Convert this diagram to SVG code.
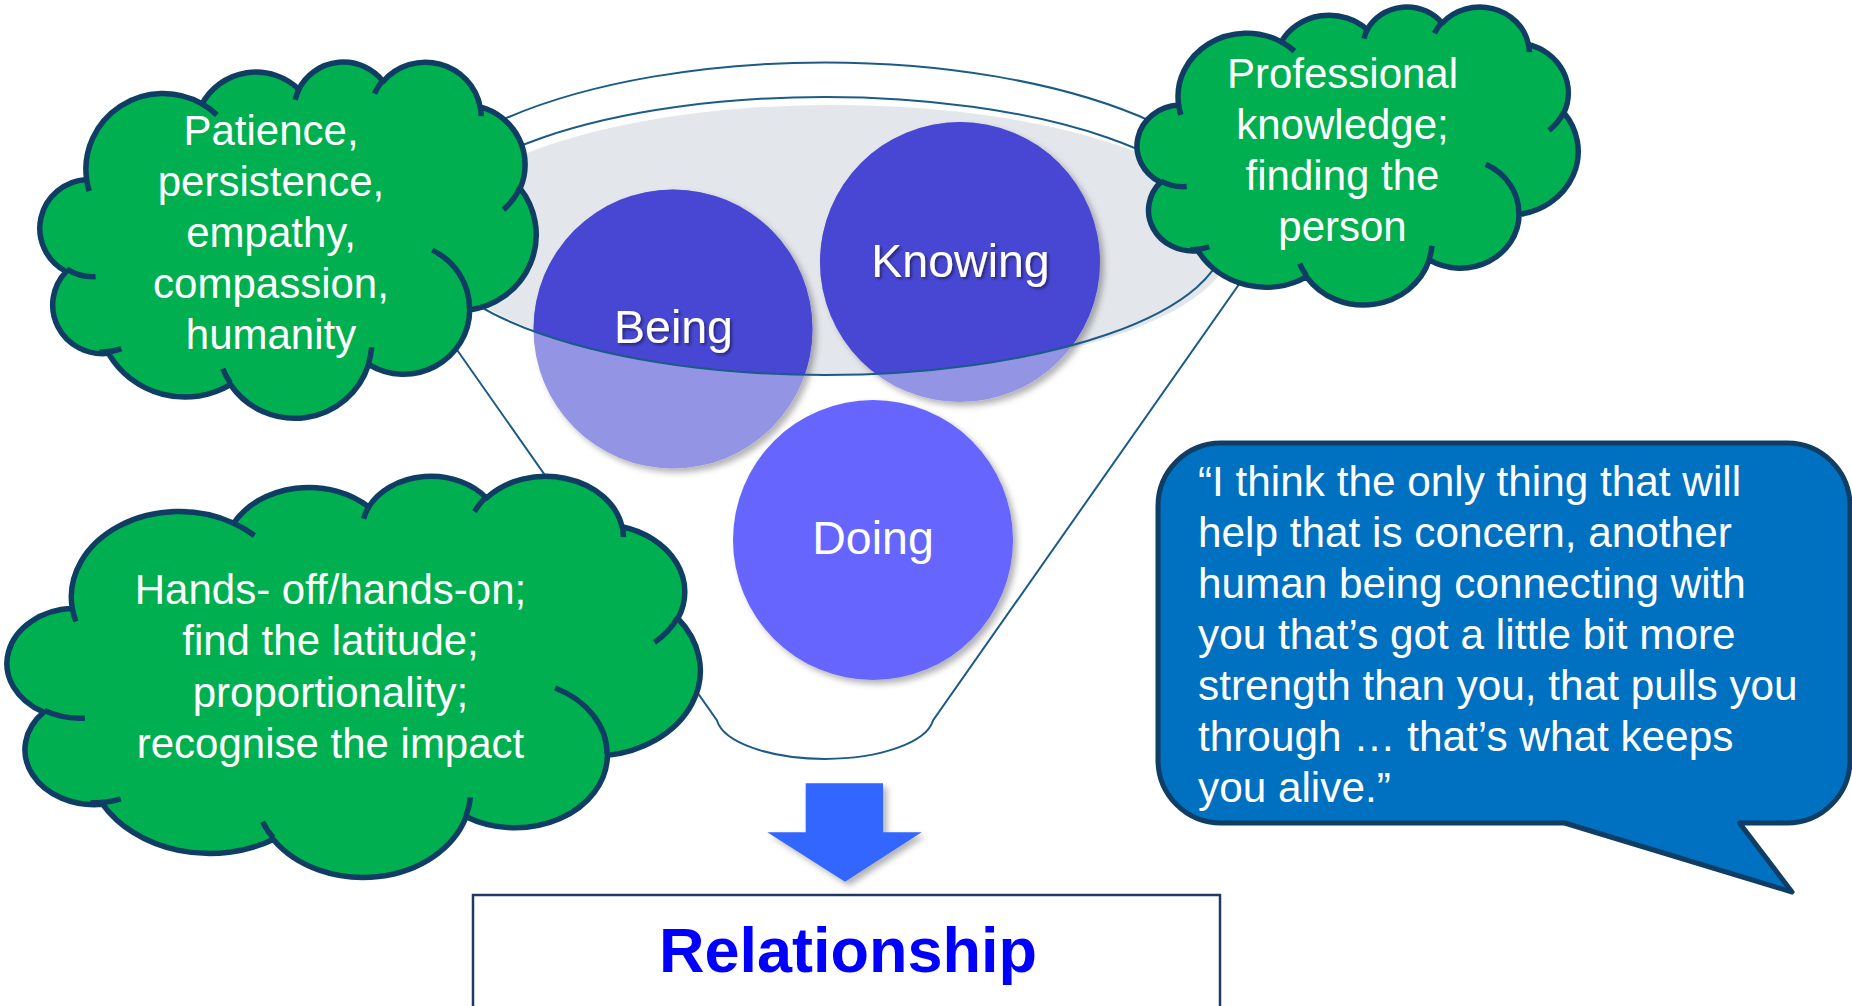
<svg xmlns="http://www.w3.org/2000/svg" width="1852" height="1006" viewBox="0 0 1852 1006">
  <style>
    .cloud { fill: #00B050; stroke: #0F3D63; stroke-width: 5.5; stroke-linejoin: round; }
    .cloudmark { fill: none; stroke: #0F3D63; stroke-width: 5.5; }
    .ctext { font-family: "Liberation Sans", Arial, sans-serif; font-size: 42px; fill: #FFFFFF; text-anchor: middle; }
    .btext { font-family: "Liberation Sans", Arial, sans-serif; font-size: 42.3px; fill: #FFFFFF; }
    .circtext { font-family: "Liberation Sans", Arial, sans-serif; font-size: 46.5px; fill: #FFFFFF; text-anchor: middle; }
    .funnel { fill: none; stroke: #1B5B87; stroke-width: 2; }
    .light { fill: #9494E5; }
    .dark { fill: #4747D3; }
  </style>
  <defs>
    <filter id="shadow" x="-20%" y="-20%" width="140%" height="140%">
      <feDropShadow dx="4" dy="4" stdDeviation="3" flood-color="#000" flood-opacity="0.3"/>
    </filter>
    <filter id="tshadow" x="-10%" y="-20%" width="120%" height="150%">
      <feDropShadow dx="2" dy="2" stdDeviation="1.5" flood-color="#000" flood-opacity="0.45"/>
    </filter>
    <clipPath id="funnelTop">
      <ellipse cx="825" cy="236" rx="400" ry="139"/>
    </clipPath>
  </defs>

  <rect width="1852" height="1006" fill="#FFFFFF"/>

  <!-- Funnel -->
  <g id="funnel">
    <ellipse cx="833" cy="240" rx="400" ry="135" fill="#E3E6EB"/>
    <path class="funnel" d="M394,260 A435,174 0 1 1 1256,260 L933,720.5 A108.75,43.5 0 0 1 717,720.5 Z"/>
  </g>

  <!-- Circles -->
  <g id="being">
    <circle class="light" cx="673" cy="329" r="139.5" filter="url(#shadow)"/>
    <circle class="dark" cx="673" cy="329" r="139.5" clip-path="url(#funnelTop)"/>
  </g>
  <g id="knowing">
    <circle class="light" cx="960" cy="262" r="140" filter="url(#shadow)"/>
    <circle class="dark" cx="960" cy="262" r="140" clip-path="url(#funnelTop)"/>
  </g>
  <g id="doing">
    <circle cx="873" cy="540" r="140" fill="#6666FF" filter="url(#shadow)"/>
    <text class="circtext" x="873" y="554">Doing</text>
  </g>

  <g id="funnel-rim">
    <ellipse class="funnel" cx="825" cy="236" rx="400" ry="139"/>
  </g>
  <g id="circle-labels">
    <text class="circtext" x="673.5" y="343" filter="url(#tshadow)">Being</text>
    <text class="circtext" x="960.5" y="277" filter="url(#tshadow)">Knowing</text>
  </g>

  <!-- Clouds -->
  <g id="cloud-being">
    <path class="cloud" d="M86.61,179.41 A77.21,75.72 0 0 1 202.15,103.86 A60.96,59.88 0 0 1 298.78,89.30 A49.89,48.99 0 0 1 383.16,81.47 A55.53,54.36 0 0 1 480.18,106.96 A60.96,59.95 0 0 1 520.19,188.41 A77.46,75.97 0 0 1 469.71,309.92 A66.15,64.83 0 0 1 368.53,364.38 A77.21,75.93 0 0 1 230.46,384.60 A88.28,86.90 0 0 1 108.39,353.35 A49.84,48.77 0 0 1 66.16,271.57 A49.70,48.99 0 0 1 86.61,179.41 Z"/>
    <path class="cloudmark" d="M95.65,276.74 A49.70,48.99 0 0 1 66.70,269.15 M121.24,348.58 A49.84,48.77 0 0 1 99.50,351.96 M230.41,383.14 A77.21,75.93 0 0 1 222.80,368.76 M371.65,347.37 A77.21,75.93 0 0 1 368.58,363.10 M432.26,250.14 A66.15,64.83 0 0 1 469.46,308.95 M519.95,187.52 A60.96,59.95 0 0 1 503.40,209.59 M480.23,105.71 A55.53,54.36 0 0 1 481.12,116.14 M374.51,93.57 A55.53,54.36 0 0 1 383.01,80.26 M295.18,99.91 A49.89,48.99 0 0 1 299.28,88.45 M202.11,103.79 A77.21,75.72 0 0 1 216.97,114.90 M89.18,191.12 A77.21,75.72 0 0 1 86.61,179.44"/>
    <text class="ctext" x="271" y="144.5">Patience,</text>
    <text class="ctext" x="271" y="195.7">persistence,</text>
    <text class="ctext" x="271" y="246.9">empathy,</text>
    <text class="ctext" x="271" y="298.1">compassion,</text>
    <text class="ctext" x="271" y="349.3">humanity</text>
  </g>

  <g id="cloud-knowing">
    <path class="cloud" d="M1178.64,105.11 A68.62,63.38 0 0 1 1281.32,41.88 A54.17,50.12 0 0 1 1367.19,29.69 A44.34,41.00 0 0 1 1442.17,23.14 A49.34,45.50 0 0 1 1528.39,44.47 A54.17,50.18 0 0 1 1563.95,112.65 A68.84,63.59 0 0 1 1519.09,214.36 A58.78,54.27 0 0 1 1429.18,259.96 A68.62,63.56 0 0 1 1306.48,276.88 A78.45,72.74 0 0 1 1198.00,250.72 A44.30,40.83 0 0 1 1160.47,182.27 A44.16,41.00 0 0 1 1178.64,105.11 Z"/>
    <path class="cloudmark" d="M1186.68,186.59 A44.16,41.00 0 0 1 1160.95,181.08 M1209.42,246.72 A44.30,40.83 0 0 1 1190.10,249.56 M1306.43,275.66 A68.62,63.56 0 0 1 1299.67,263.62 M1431.94,245.71 A68.62,63.56 0 0 1 1429.22,258.88 M1485.81,164.33 A58.78,54.27 0 0 1 1518.87,213.56 M1563.73,111.91 A54.17,50.18 0 0 1 1549.03,130.39 M1528.44,43.43 A49.34,45.50 0 0 1 1529.23,52.16 M1434.49,33.27 A49.34,45.50 0 0 1 1442.04,22.12 M1363.99,38.57 A44.34,41.00 0 0 1 1367.63,28.98 M1281.28,41.82 A68.62,63.38 0 0 1 1294.49,51.12 M1180.92,114.92 A68.62,63.38 0 0 1 1178.64,105.14"/>
    <text class="ctext" x="1342.5" y="87.5">Professional</text>
    <text class="ctext" x="1342.5" y="138.5">knowledge;</text>
    <text class="ctext" x="1342.5" y="189.5">finding the</text>
    <text class="ctext" x="1342.5" y="240.5">person</text>
  </g>

  <g id="cloud-doing">
    <path class="cloud" d="M72.31,608.37 A107.85,85.29 0 0 1 233.70,523.28 A85.15,67.45 0 0 1 368.66,506.88 A69.69,55.18 0 0 1 486.51,498.06 A77.56,61.23 0 0 1 622.03,526.77 A85.15,67.53 0 0 1 677.92,618.52 A108.19,85.57 0 0 1 607.40,755.38 A92.39,73.02 0 0 1 466.09,816.73 A107.85,85.53 0 0 1 273.24,839.51 A123.30,97.88 0 0 1 102.74,804.30 A69.62,54.94 0 0 1 43.74,712.19 A69.41,55.18 0 0 1 72.31,608.37 Z"/>
    <path class="cloudmark" d="M84.93,718.01 A69.41,55.18 0 0 1 44.50,710.59 M120.68,798.93 A69.62,54.94 0 0 1 90.32,802.74 M273.17,837.86 A107.85,85.53 0 0 1 262.54,821.66 M470.44,797.56 A107.85,85.53 0 0 1 466.16,815.29 M555.10,688.05 A92.39,73.02 0 0 1 607.06,754.30 M677.58,617.52 A85.15,67.53 0 0 1 654.46,642.38 M622.10,525.37 A77.56,61.23 0 0 1 623.34,537.11 M474.44,511.69 A77.56,61.23 0 0 1 486.31,496.69 M363.63,518.83 A69.69,55.18 0 0 1 369.35,505.92 M233.63,523.20 A107.85,85.29 0 0 1 254.40,535.55 M75.90,621.57 A107.85,85.29 0 0 1 72.31,608.41"/>
    <text class="ctext" x="330.5" y="604">Hands- off/hands-on;</text>
    <text class="ctext" x="330.5" y="655.3">find the latitude;</text>
    <text class="ctext" x="330.5" y="706.6">proportionality;</text>
    <text class="ctext" x="330.5" y="757.9">recognise the impact</text>
  </g>

  <!-- Quote bubble -->
  <g id="quote">
    <path d="M1221,443 H1787 A63,63 0 0 1 1850,506 V760 A63,63 0 0 1 1787,823 H1739.5 L1792,892 L1564.6,823 H1221 A63,63 0 0 1 1158,760 V506 A63,63 0 0 1 1221,443 Z" fill="#0070C0" stroke="#0F3D63" stroke-width="5" stroke-linejoin="round"/>
    <text class="btext" x="1198" y="496">“I think the only thing that will</text>
    <text class="btext" x="1198" y="547">help that is concern, another</text>
    <text class="btext" x="1198" y="598">human being connecting with</text>
    <text class="btext" x="1198" y="649">you that’s got a little bit more</text>
    <text class="btext" x="1198" y="700">strength than you, that pulls you</text>
    <text class="btext" x="1198" y="751">through … that’s what keeps</text>
    <text class="btext" x="1198" y="802">you alive.”</text>
  </g>

  <!-- Connector arrow -->
  <g id="connectors">
    <path d="M805.7,783.3 H883 V832.3 H921.7 L845,881.7 L767.3,832.3 H805.7 Z" fill="#3366FF" filter="url(#shadow)"/>
  </g>

  <!-- Relationship box -->
  <g id="relationship">
    <rect x="473" y="895" width="747" height="140" fill="#FFFFFF" stroke="#1F3864" stroke-width="2.5"/>
    <text x="848" y="971.5" font-family="'Liberation Sans', Arial, sans-serif" font-size="63" font-weight="bold" fill="#0000FF" text-anchor="middle">Relationship</text>
  </g>
</svg>
